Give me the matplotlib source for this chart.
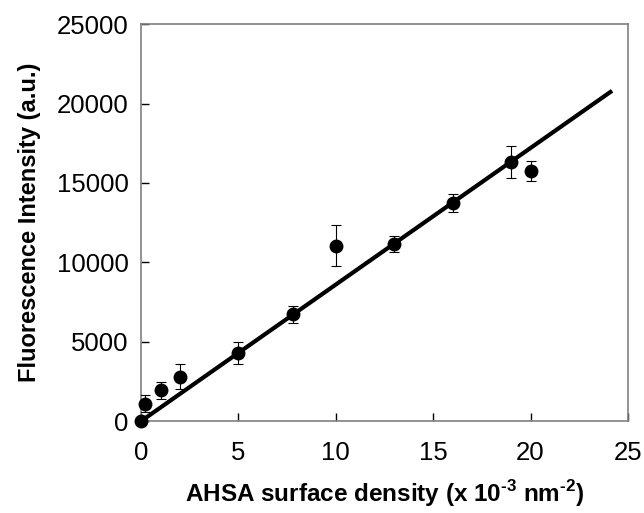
import matplotlib
matplotlib.use("Agg")
import matplotlib.pyplot as plt
import numpy as np

plt.rcParams['font.family'] = ['Liberation Sans', 'DejaVu Sans']
plt.rcParams['mathtext.fontset'] = 'custom'
plt.rcParams['mathtext.rm'] = 'Liberation Sans:bold'
plt.rcParams['mathtext.bf'] = 'Liberation Sans:bold'

# measured data
density = [0, 0.2, 1, 2, 5, 7.8, 10, 13, 16, 19, 20]
intensity = [0, 1100, 1950, 2800, 4300, 6720, 11050, 11150, 13750, 16330, 15760]
errors = [0, 520, 530, 800, 680, 530, 1280, 500, 550, 1000, 650]

# linear fit through origin
slope = 860
fit_x = np.array([0, 24.1])
fit_y = slope * fit_x

fig = plt.figure(figsize=(6.44, 5.13), dpi=100)
ax = fig.add_axes([0.219, 0.179, 0.756, 0.774])

ax.plot(fit_x, fit_y, color='black', linewidth=3, zorder=2)
eb = ax.errorbar(density, intensity, yerr=errors, fmt='o', color='black',
                 markersize=9, ecolor='black', elinewidth=0.8, capsize=3.5,
                 capthick=0.8, zorder=3)
eb[0].set_clip_on(False)

ax.set_xlim(0, 25)
ax.set_ylim(0, 25000)
ax.set_xticks([0, 5, 10, 15, 20, 25])
ax.set_yticks([0, 5000, 10000, 15000, 20000, 25000])

for s in ax.spines.values():
    s.set_color('#808080')
    s.set_linewidth(1.2)

ax.tick_params(direction='in', length=6, width=1, color='black',
               labelsize=18.5, top=False, right=False)
ax.tick_params(axis='x', pad=14)
ax.tick_params(axis='y', pad=9)

ax.set_xlabel(r'AHSA surface density (x 10$^{\text{-3}}$ nm$^{\text{-2}}$)',
              fontsize=17.5, fontweight='bold', labelpad=10)
ax.set_ylabel('Fluorescence Intensity (a.u.)', fontsize=17,
              fontweight='bold', labelpad=11)

fig.savefig('out.png', dpi=100)
